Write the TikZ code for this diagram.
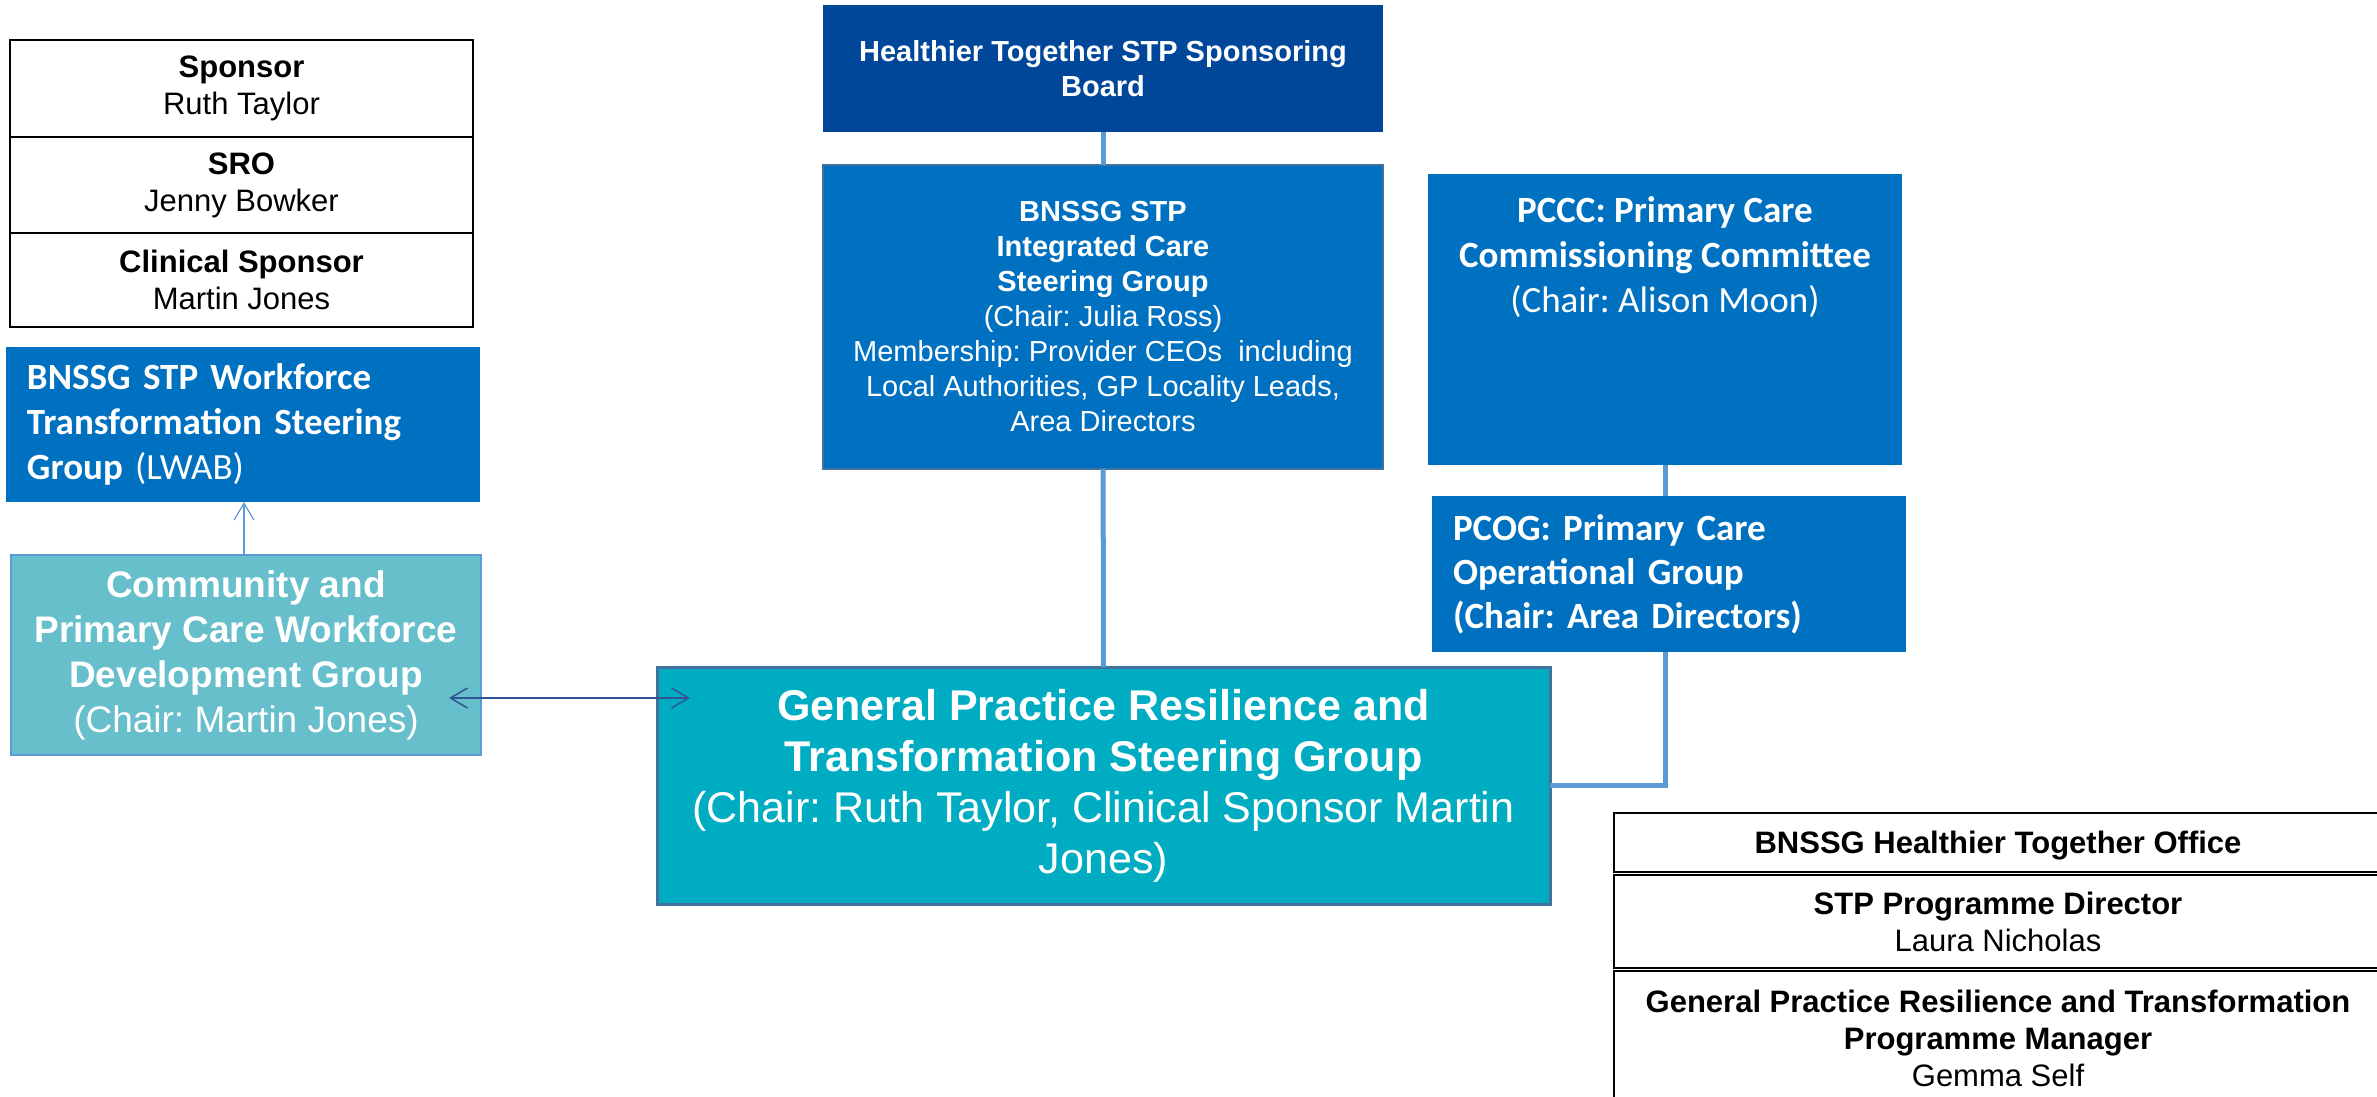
\documentclass[tikz,border=0pt]{standalone}
\usepackage{fontspec}
\setmainfont{Liberation Sans}
\newfontfamily\carlito{Carlito}
\usetikzlibrary{positioning,arrows.meta}
\frenchspacing

\definecolor{navy}{HTML}{00479A}
\definecolor{stpblue}{HTML}{0070C0}
\definecolor{aquabox}{HTML}{67BFCB}
\definecolor{gpteal}{HTML}{00ACC2}
\definecolor{linkblue}{HTML}{5B9BD5}
\definecolor{edgeblue}{HTML}{41719C}
\definecolor{arrowblue}{HTML}{2F5597}

\begin{document}
\begin{tikzpicture}[x=1pt,y=-1pt,
    every node/.style={inner sep=0pt,outer sep=0pt,align=center},
    cell/.style={draw=black,line width=1.5pt,fill=white,minimum width=#1,font=\fontsize{31}{37}\selectfont},
    cell/.default=463,
    board/.style={fill=navy,text=white,minimum width=560,font=\bfseries\fontsize{29}{35}\selectfont},
    group/.style={fill=stpblue,text=white,font=\fontsize{29}{35}\selectfont},
    calbox/.style={fill=stpblue,text=white,minimum width=474,font=\carlito\fontsize{37}{45}\selectfont},
    caltext/.style={text=white,font=\carlito\fontsize{37}{45}\selectfont},
    link/.style={draw=linkblue,line width=5pt},
    barb/.tip={Straight Barb[length=17pt,width=20pt]}]
    \useasboundingbox (0,0) rectangle (2377,1097);

    % sponsor table, top left
    \node[cell,minimum height=97] (sponsor) at (241.5,88.5) {\textbf{Sponsor}\\Ruth Taylor};
    \node[cell,minimum height=96,below=0pt of sponsor] (sro) {\textbf{SRO}\\Jenny Bowker};
    \node[cell,minimum height=94,below=0pt of sro] (clinical) {\textbf{Clinical Sponsor}\\Martin Jones};

    % workforce side
    \node[calbox,minimum height=155,text width=432,align=left] (lwab) at (243,424.5)
        {\textbf{BNSSG STP Workforce}\\\textbf{Transformation Steering}\\\textbf{Group} (LWAB)};
    \node[fill=aquabox,draw=linkblue,line width=2pt,text=white,minimum width=470,minimum height=200,
        font=\fontsize{37}{45}\selectfont] (comm) at (246,655)
        {\textbf{Community and}\\\textbf{Primary Care Workforce}\\\textbf{Development Group}\\(Chair: Martin Jones)};

    % middle column
    \node[board,minimum height=127] (board) at (1103,68.5) {Healthier Together STP Sponsoring\\Board};
    \node[group,draw=edgeblue,line width=1.5pt,minimum width=560,minimum height=304] (ics) at (1103,317)
        {\textbf{BNSSG STP}\\\textbf{Integrated Care}\\\textbf{Steering Group}\\(Chair: Julia Ross)\\
         Membership: Provider CEOs~ including\\Local Authorities, GP Locality Leads,\\Area Directors};
    \node[fill=gpteal,draw=edgeblue,line width=3pt,text=white,minimum width=893,minimum height=237,
        font=\fontsize{43}{51}\selectfont] (gp) at (1103.5,785.5)
        {\textbf{General Practice Resilience and}\\\textbf{Transformation Steering Group}\\
         (Chair: Ruth Taylor, Clinical Sponsor Martin\\Jones)};

    % primary care column
    \node[calbox,minimum height=291] (pccc) at (1665,319.5) {};
    \node[caltext,below=23pt of pccc.north] (pccctext)
        {\textbf{PCCC: Primary Care}\\\textbf{Commissioning Committee}\\(Chair: Alison Moon)};
    \node[calbox,minimum height=156,text width=432,align=left,font=\carlito\bfseries\fontsize{37}{44}\selectfont]
        (pcog) at (1669,574) {PCOG: Primary Care\\Operational Group\\(Chair: Area Directors)};

    % office table, bottom right
    \node[cell=768,minimum height=59,text depth=0pt] (office) at (1998,842.5) {\textbf{BNSSG Healthier Together Office}};
    \node[cell=768,minimum height=93,below=3pt of office] (director) {\textbf{STP Programme Director}\\Laura Nicholas};
    \node[cell=768,minimum height=134,below=3pt of director] (manager)
        {\textbf{General Practice Resilience and Transformation}\\\textbf{Programme Manager}\\Gemma Self};

    % connectors
    \draw[link] (board) -- (ics);
    \draw[link] (ics) -- (gp);
    \draw[link] (pccc.south) -- (pccc.south |- pcog.north);
    \draw[link] (pccc.south |- pcog.south) |- (gp.east);
    \draw[-barb,draw=linkblue,line width=1.2pt] (comm.north -| 244,0) -- (lwab.south -| 244,0);
    \coordinate (hub) at ([yshift=-43pt]comm.east);
    \draw[barb-barb,draw=arrowblue,line width=1.5pt,shorten <=-32pt,shorten >=-33pt] (hub) -- (hub -| gp.west);
\end{tikzpicture}
\end{document}
